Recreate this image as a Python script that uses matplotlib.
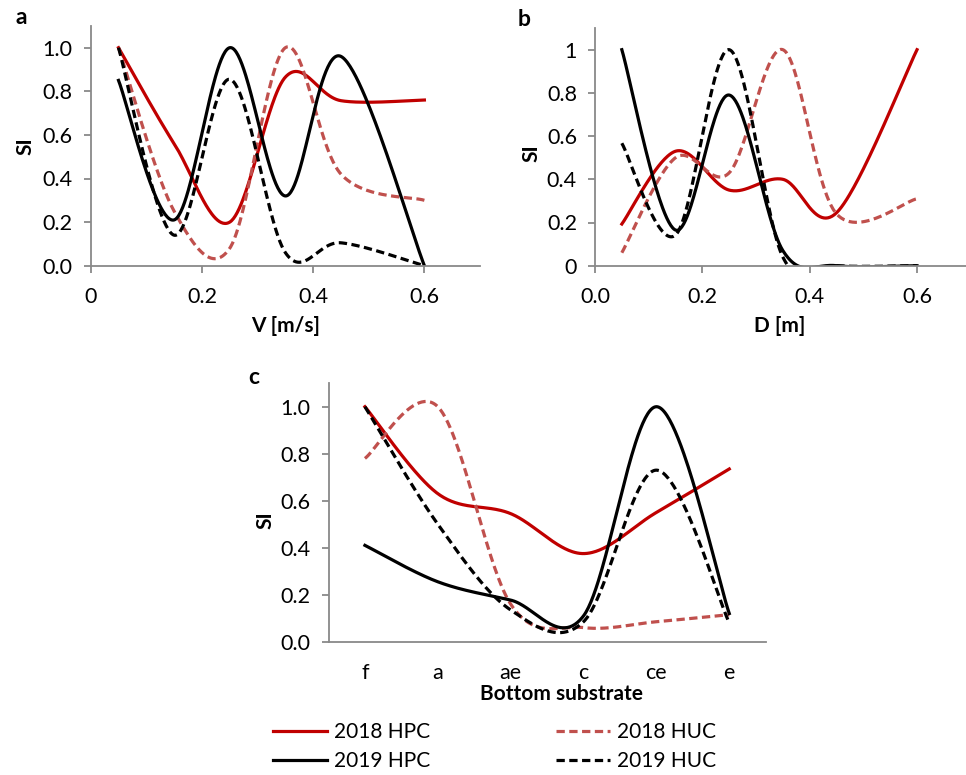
import numpy as np
import matplotlib
matplotlib.use("Agg")
import matplotlib.pyplot as plt
from matplotlib.lines import Line2D

plt.rcParams['font.family'] = ['Lato', 'DejaVu Sans']

W, H = 966, 775

# panel a: velocity
v = [0.05, 0.15, 0.25, 0.35, 0.45, 0.6]
a_hpc18 = [1.0, 0.56, 0.2, 0.865, 0.757, 0.76]
a_huc18 = [1.0, 0.25, 0.08, 1.0, 0.42, 0.3]
a_hpc19 = [0.85, 0.21, 1.0, 0.32, 0.96, 0.0]
a_huc19 = [1.0, 0.14, 0.855, 0.06, 0.105, 0.0]

# panel b: depth
d = [0.05, 0.15, 0.25, 0.35, 0.45, 0.6]
b_hpc18 = [0.193, 0.53, 0.35, 0.40, 0.245, 1.0]
b_huc18 = [0.06, 0.5, 0.43, 1.0, 0.24, 0.31]
b_hpc19 = [1.0, 0.165, 0.79, 0.07, 0.0, 0.0]
b_huc19 = [0.567, 0.142, 1.0, 0.04, 0.0, 0.0]

# panel c: bottom substrate
substrate = ['f', 'a', 'ae', 'c', 'ce', 'e']
c_hpc18 = [1.0, 0.63, 0.545, 0.375, 0.55, 0.735]
c_huc18 = [0.78, 1.0, 0.16, 0.06, 0.085, 0.115]
c_hpc19 = [0.41, 0.255, 0.177, 0.11, 1.0, 0.12]
c_huc19 = [1.0, 0.5, 0.135, 0.085, 0.73, 0.08]

labels = ['2018 HPC', '2018 HUC', '2019 HPC', '2019 HUC']
RED = '#C00000'
LRED = '#C0504D'
GRAY = '#898989'
styles = [dict(color=RED, ls='-'), dict(color=LRED, ls=(0, (2.6, 1.4))),
          dict(color='black', ls='-'), dict(color='black', ls=(0, (2.6, 1.4)))]


def smooth(x, y, n=60):
    # excel style smoothed line: bezier with 1/6 neighbour tangents
    pts = np.column_stack([x, y]).astype(float)
    P = np.vstack([pts[0], pts, pts[-1]])
    t = np.linspace(0, 1, n)[:, None]
    out = []
    for i in range(1, len(P) - 2):
        p0, p1, p2, p3 = P[i - 1], P[i], P[i + 1], P[i + 2]
        c1 = p1 + (p2 - p0) / 6
        c2 = p2 - (p3 - p1) / 6
        seg = (1 - t) ** 3 * p1 + 3 * (1 - t) ** 2 * t * c1 + 3 * (1 - t) * t ** 2 * c2 + t ** 3 * p2
        out.append(seg)
    s = np.vstack(out)
    return s[:, 0], s[:, 1]


def px_axes(l, r, b, t):
    return fig.add_axes([l / W, 1 - b / H, (r - l) / W, (b - t) / H])


def style_axes(ax):
    for s in ['top', 'right']:
        ax.spines[s].set_visible(False)
    for s in ['left', 'bottom']:
        ax.spines[s].set_color(GRAY)
        ax.spines[s].set_linewidth(1.3)
    ax.tick_params(colors=GRAY, labelcolor='black', labelsize=15.5, width=1.3, length=5)
    ax.tick_params(axis='x', pad=10)
    ax.tick_params(axis='y', pad=8)


def ftext(x, y, s, **kw):
    fig.text(x / W, 1 - y / H, s, ha='center', va='center', **kw)


fig = plt.figure(figsize=(W / 100, H / 100), dpi=100)

# a
ax = px_axes(90.7, 480, 265.7, 25.9)
for ys, st in zip([a_hpc18, a_huc18, a_hpc19, a_huc19], styles):
    xs, yy = smooth(v, ys)
    ax.plot(xs, yy, lw=2.3, **st)
ax.set_xlim(0, 0.7)
ax.set_ylim(0, 1.1)
ax.set_xticks([0, 0.2, 0.4, 0.6], ['0', '0.2', '0.4', '0.6'])
ax.set_yticks([0, 0.2, 0.4, 0.6, 0.8, 1.0], ['0.0', '0.2', '0.4', '0.6', '0.8', '1.0'])
style_axes(ax)

# b
ax = px_axes(595, 966, 265.7, 28.1)
for ys, st in zip([b_hpc18, b_huc18, b_hpc19, b_huc19], styles):
    xs, yy = smooth(d, ys)
    ax.plot(xs, yy, lw=2.3, **st)
ax.set_xlim(0, (966 - 595) / 536.7)
ax.set_ylim(0, 1.1)
ax.set_xticks([0, 0.2, 0.4, 0.6], ['0.0', '0.2', '0.4', '0.6'])
ax.set_yticks([0, 0.2, 0.4, 0.6, 0.8, 1.0], ['0', '0.2', '0.4', '0.6', '0.8', '1'])
style_axes(ax)

# c
ax = px_axes(328.5, 765.7, 641.7, 383.2)
pos = np.arange(len(substrate))
for ys, st in zip([c_hpc18, c_huc18, c_hpc19, c_huc19], styles):
    xs, yy = smooth(pos, ys)
    ax.plot(xs, yy, lw=2.3, **st)
ax.set_xlim(-0.5, len(substrate) - 0.5)
ax.set_ylim(0, 1.1)
ax.set_xticks(pos, substrate)
ax.set_yticks([0, 0.2, 0.4, 0.6, 0.8, 1.0], ['0.0', '0.2', '0.4', '0.6', '0.8', '1.0'])
style_axes(ax)
ax.tick_params(axis='x', length=0, pad=15)

# labels
bold = dict(fontsize=15, fontweight='bold')
ftext(25, 146, 'SI', rotation=90, **bold)
ftext(531, 153, 'SI', rotation=90, **bold)
ftext(265, 520, 'SI', rotation=90, **bold)
ftext(286, 326, 'V [m/s]', **bold)
ftext(780, 326, 'D [m]', **bold)
ftext(561, 694, 'Bottom substrate', **bold)
ftext(21, 18, 'a', fontsize=16.5, fontweight='bold')
ftext(524, 20, 'b', fontsize=16.5, fontweight='bold')
ftext(254, 377, 'c', fontsize=16.5, fontweight='bold')

# legend
handles = [Line2D([], [], lw=2.3, **st) for st in styles]
order = [0, 2, 1, 3]
fig.legend([handles[i] for i in order], [labels[i] for i in order], ncol=2,
           loc='upper left', bbox_to_anchor=(273 / W, 1 - 722 / H), frameon=False,
           fontsize=15, handlelength=2.6, handletextpad=0.35, columnspacing=6.0,
           labelspacing=0.45, borderpad=0, borderaxespad=0)

fig.savefig('out.png', dpi=100)
